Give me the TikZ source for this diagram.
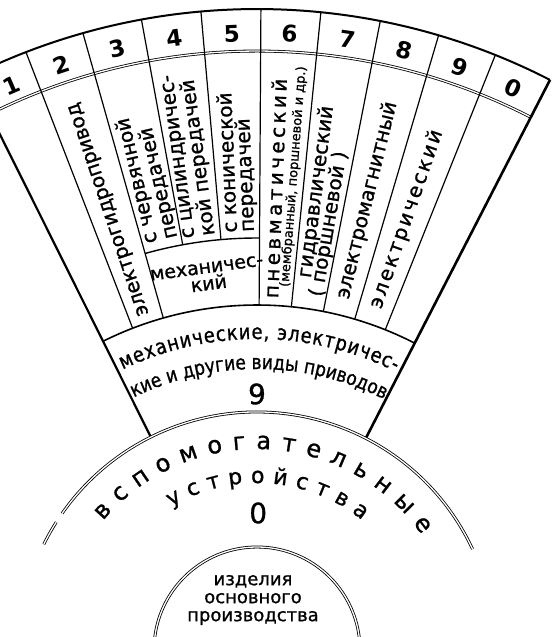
\documentclass[tikz,border=0pt]{standalone}
\usepackage{fontspec}
\setmainfont{DejaVu Sans}
\newfontfamily\inkfont[FakeBold=1]{DejaVu Sans}
\newfontfamily\bandfont[FakeStretch=0.85,FakeBold=1]{DejaVu Sans}
\usetikzlibrary{decorations.text}

\begin{document}
\begin{tikzpicture}[x=1pt,y=1pt,
    rim/.style={line width=2pt},
    fanside/.style={line width=2.2pt},
    divider/.style={line width=1.2pt},
    twin/.style={double, line width=0.8pt, double distance=1.3pt},
    digit/.style={font=\bfseries\fontsize{23}{23}\selectfont, inner sep=0pt},
    coltext/.style={font=\inkfont\fontsize{20}{17}\selectfont, inner sep=0pt, align=left},
    smalltext/.style={font=\inkfont\fontsize{13}{13}\selectfont, inner sep=0pt},
    bigdigit/.style={font=\inkfont\fontsize{28}{28}\selectfont, inner sep=0pt}]
  \useasboundingbox (0,0) rectangle (553,637);
  \clip (0,0) rectangle (553,637);
  \begin{scope}[shift={(257,-13)}]
  %obod
    \draw[rim] (116.5:641) arc[start angle=116.5, end angle=62.8, radius=641];
    \draw[twin] (116.5:599) arc[start angle=116.5, end angle=62.8, radius=599];
  %storony
    \draw[fanside] (116.5:641) -- (116.5:239);
    \draw[fanside, line width=2.6pt] (62.8:641) -- (62.8:239);
  %razdeliteli
    \draw[divider] (111.13:641) -- (111.13:345);
    \draw[divider] (105.76:641) -- (105.76:345);
    \draw[divider] (100.39:641) -- (100.39:412);
    \draw[divider] (95.02:641) -- (95.02:412);
    \draw[divider] (89.65:641) -- (89.65:345);
    \draw[divider] (84.28:641) -- (84.28:345);
    \draw[divider] (78.91:641) -- (78.91:345);
    \draw[divider] (73.54:641) -- (73.54:345);
    \draw[divider] (68.17:641) -- (68.17:345);
  %mehanicheskij i pojas
    \draw[divider, line width=1.4pt] (105.76:412) arc[start angle=105.76, end angle=89.65, radius=412];
    \draw[divider, line width=1.6pt] (116.5:345) arc[start angle=116.5, end angle=62.8, radius=345];
  %vspomogatelnye
    \draw[twin] (25.1:238) arc[start angle=25.1, end angle=145, radius=238];
    \draw[twin] (147.5:238) arc[start angle=147.5, end angle=153.6, radius=238];
  %izdelija
    \draw[twin] (0:103) arc[start angle=0, end angle=180, radius=103];

  %cifry
    \node[digit, rotate=23.5] (d1) at (113.5:615) {1};
    \node[digit, rotate=18.4] (d2) at (108.445:617) {2};
    \node[digit, rotate=13.1] (d3) at (103.075:617) {3};
    \node[digit, rotate=7.7] (d4) at (97.705:617) {4};
    \node[digit, rotate=2.3] (d5) at (92.335:617) {5};
    \node[digit, rotate=-3.0] (d6) at (86.965:617) {6};
    \node[digit, rotate=-8.4] (d7) at (81.595:617) {7};
    \node[digit, rotate=-13.8] (d8) at (76.225:617) {8};
    \node[digit, rotate=-19.1] (d9) at (70.855:617) {9};
    \node[digit, rotate=-24.5] (d0) at (65.485:617) {0};

  %kolonki
    \node[coltext, rotate=108.445] (egp) at (108.445:465) {электрогидропривод};
    \node[coltext, rotate=103.075, anchor=west] (cherv) at (103.075:420) {с червячной\\передачей};
    \node[coltext, rotate=97.705, anchor=west] (cil) at (97.705:417) {с цилиндричес-\\кой передачей};
    \node[coltext, rotate=92.335, anchor=west] (kon) at (92.335:418) {с конической\\передачей};
    \node[coltext, align=center, rotate=7.7, font=\inkfont\fontsize{19}{17}\selectfont] (meh) at (97.5:377) {механичес-\\кий};
    \node[coltext, rotate=87.75, anchor=west] (pnev) at (87.75:352) {\addfontfeature{LetterSpace=17}пневматический};
    \node[smalltext, rotate=85.6, anchor=west] (membr) at (85.6:364) {(мембранный, поршневой и др.)};
    \node[coltext, rotate=82.6] (gidr) at (82.6:462) {гидравлический};
    \node[coltext, rotate=80.4] (porsh) at (80.4:432) {( поршневой )};
    \node[coltext, rotate=76.225] (elmag) at (76.225:463) {электромагнитный};
    \node[coltext, rotate=70.855] (elek) at (70.855:456) {\addfontfeature{LetterSpace=12}электрический};

  %pojas privodov
    \path[decorate, decoration={text along path, text align=fit to path,
      text={|\bandfont\fontsize{21}{21}\selectfont|механические{,} электричес-}}]
      (115.6:311) arc[start angle=115.6, end angle=63.6, radius=311];
    \path[decorate, decoration={text along path, text align=fit to path,
      text={|\bandfont\fontsize{20}{20}\selectfont|кие и другие виды приводов}}]
      (116:281) arc[start angle=116, end angle=64, radius=281];
    \node[bigdigit] (nine) at (90:256) {9};

  %vspomogatelnye ustrojstva
    \path[decorate, decoration={text along path, text align=fit to path,
      text={|\inkfont\fontsize{24}{24}\selectfont|вспомогательные}}]
      (140:201) arc[start angle=140, end angle=35, radius=201];
    \path[decorate, decoration={text along path, text align=fit to path,
      text={|\inkfont\fontsize{22}{22}\selectfont|устройства}}]
      (121:167) arc[start angle=121, end angle=51, radius=167];
    \node[bigdigit] (zero) at (89.5:137) {0};

  %izdelija osnovnogo proizvodstva
    \node[coltext, align=center, font=\inkfont\fontsize{18}{18}\selectfont] (izd) at (-4,50) {изделия\\основного\\производства};
  \end{scope}
\end{tikzpicture}
\end{document}
